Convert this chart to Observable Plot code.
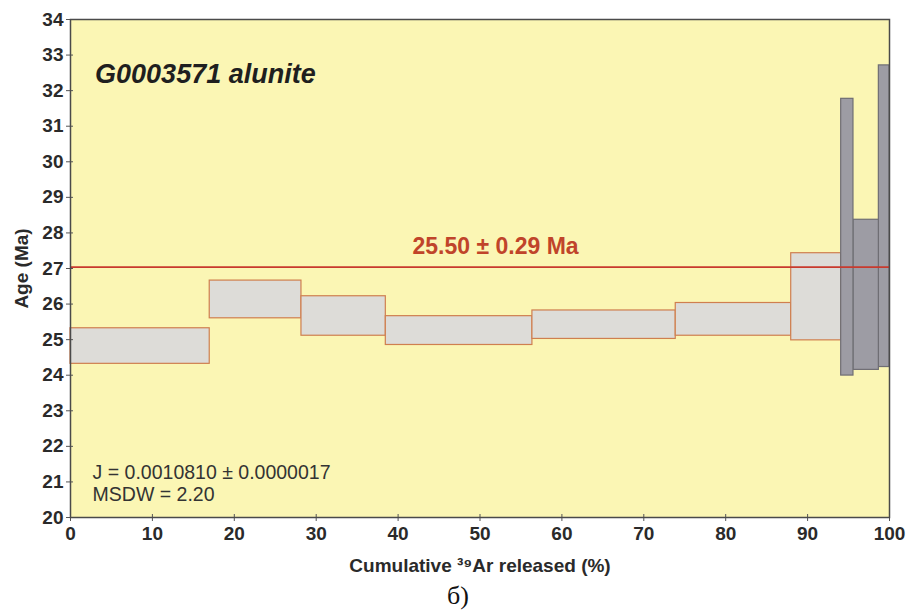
<!DOCTYPE html>
<html>
<head>
<meta charset="utf-8">
<script src="https://cdn.jsdelivr.net/npm/d3@7"></script>
<script src="https://cdn.jsdelivr.net/npm/@observablehq/plot@0.6"></script>
<style>
  html, body { margin: 0; padding: 0; background: #ffffff; }
  #chart svg { display: block; }
</style>
</head>
<body>
<div id="chart"></div>
<script>
// Step boundaries (cumulative 39Ar released, %)
const stepBounds = [0, 17.0, 28.2, 38.5, 56.4, 73.9, 88.0, 94.1, 95.6, 98.7, 100];
// Age ranges per step (Ma)
const ageHigh = [25.32, 26.66, 26.22, 25.66, 25.82, 26.03, 27.43, 31.77, 28.37, 32.71];
const ageLow  = [24.32, 25.60, 25.11, 24.85, 25.02, 25.11, 24.98, 23.99, 24.15, 24.23];
const inPlateau = [true, true, true, true, true, true, true, false, false, false];
const plateauLine = 27.04;
const plateauLabel = "25.50 ± 0.29 Ma";
const sampleTitle = "G0003571 alunite";
const infoLines = ["J = 0.0010810 ± 0.0000017", "MSDW = 2.20"];
const xTicks = [0, 10, 20, 30, 40, 50, 60, 70, 80, 90, 100];
const yTicks = [20, 21, 22, 23, 24, 25, 26, 27, 28, 29, 30, 31, 32, 33, 34];
const xLabel = "Cumulative ³⁹Ar released (%)";
const yLabel = "Age (Ma)";
const panelLabel = "б)";

const steps = ageHigh.map((h, i) => ({
  x1: stepBounds[i], x2: stepBounds[i + 1], y1: ageLow[i], y2: h, plateau: inPlateau[i]
}));

const font = "'Liberation Sans', Arial, sans-serif";

const chart = Plot.plot({
  width: 909,
  height: 614,
  marginLeft: 70,
  marginRight: 20,
  marginTop: 19,
  marginBottom: 97,
  style: { fontFamily: font, fontSize: "18.5px", color: "#2a2a2a", background: "#ffffff" },
  x: { domain: [0, 100], ticks: xTicks, label: null },
  y: { domain: [20, 34], ticks: yTicks, label: null },
  marks: [
    Plot.frame({ fill: "#fbf6b4" }),
    Plot.rect(steps.filter(d => d.plateau), {
      x1: "x1", x2: "x2", y1: "y1", y2: "y2",
      fill: "#dddcd8", stroke: "#cf7f4f", strokeWidth: 1.2
    }),
    Plot.rect(steps.filter(d => !d.plateau).reverse(), {
      x1: "x1", x2: "x2", y1: "y1", y2: "y2",
      fill: "#9d9ca4", stroke: "#6f6e74", strokeWidth: 1.2
    }),
    Plot.ruleY([plateauLine], { stroke: "#c83a2e", strokeWidth: 1.6 }),
    Plot.text([plateauLabel], {
      x: 51.9, y: 27.62, text: d => d, fill: "#c0442a",
      fontSize: 23, fontWeight: "bold", textAnchor: "middle"
    }),
    Plot.text([sampleTitle], {
      x: 3.0, y: 32.45, text: d => d, fill: "#1f1f1f",
      fontSize: 27, fontWeight: "bold", fontStyle: "italic", textAnchor: "start"
    }),
    Plot.text([infoLines.join("\n")], {
      x: 2.7, y: 20.98, text: d => d, fill: "#333333",
      fontSize: 19.5, textAnchor: "start", lineHeight: 1.13
    }),
    Plot.axisY({
      ticks: yTicks, tickSize: -3, tickFormat: () => "", stroke: "#555", label: null
    }),
    Plot.axisX({
      ticks: xTicks, tickSize: -3, tickFormat: () => "", stroke: "#555", label: null
    }),
    Plot.axisY({
      ticks: yTicks, tickSize: 4, tickPadding: 3, fontWeight: "bold", fontSize: 19,
      stroke: "#555", fill: "#2a2a2a",
      label: yLabel, labelAnchor: "center", labelOffset: 56, labelArrow: "none"
    }),
    Plot.axisX({
      ticks: xTicks, tickSize: 4, tickPadding: 5, fontWeight: "bold", fontSize: 19,
      stroke: "#555", fill: "#2a2a2a",
      label: xLabel, labelAnchor: "center", labelOffset: 54, labelArrow: "none"
    }),
    Plot.frame({ stroke: "#4a4a4a", strokeWidth: 1.5 }),
    Plot.text([panelLabel], {
      frameAnchor: "bottom", dy: 86, dx: -22, text: d => d, fill: "#111",
      fontSize: 26, fontFamily: "'Liberation Serif', 'Times New Roman', serif"
    })
  ]
});

document.getElementById("chart").appendChild(chart);
</script>
</body>
</html>
